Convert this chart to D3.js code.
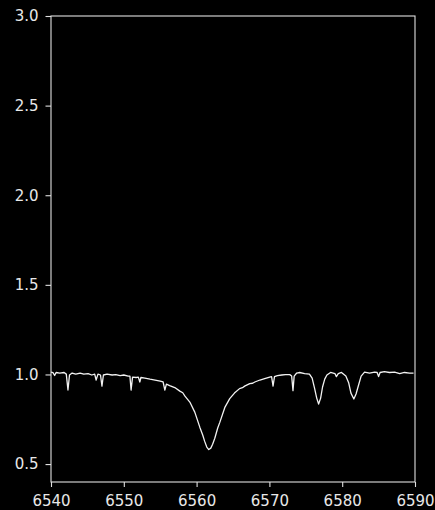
<!DOCTYPE html>
<html>
<head>
<meta charset="utf-8">
<script src="https://cdn.jsdelivr.net/npm/d3@7"></script>
<style>
  html, body { margin: 0; padding: 0; background: #000; }
  svg { display: block; }
  .axis text { font-family: "DejaVu Sans", sans-serif; font-size: 15px; fill: #e8e8e8; }
  .axis line, .axis path { stroke: #e0e0e0; stroke-width: 1.1; }
</style>
</head>
<body>
<script>
// Spectrum around H-alpha: wavelength (Å) and normalised flux
const wavelength = [
  6540.0, 6540.27, 6540.5, 6540.7, 6541.2, 6541.8, 6542.1, 6542.33, 6542.54, 6542.9,
  6543.4, 6544.0, 6544.5, 6545.1, 6545.6, 6546.0, 6546.2, 6546.45, 6546.8, 6547.0,
  6547.2, 6547.7, 6548.4, 6548.9, 6549.5, 6550.0, 6550.6, 6550.84, 6551.0, 6551.2,
  6551.7, 6552.0, 6552.2, 6552.35, 6552.9, 6553.6, 6554.3, 6555.0, 6555.4, 6555.64,
  6555.85, 6556.3, 6557.0, 6557.7, 6558.1, 6558.4, 6559.07, 6559.75, 6560.44, 6560.85, 6561.1,
  6561.4, 6561.67, 6561.95, 6562.2, 6562.5, 6562.9, 6563.2, 6563.9, 6564.55, 6565.2,
  6565.9, 6566.3, 6566.6, 6567.3, 6567.7, 6568.0, 6568.7, 6569.35, 6570.04, 6570.3, 6570.5, 6570.7,
  6571.1, 6571.7, 6572.2, 6572.8, 6573.06, 6573.24, 6573.4, 6573.75, 6574.16, 6574.84,
  6575.5, 6575.87, 6576.2, 6576.5, 6576.76, 6577.04, 6577.3, 6577.6, 6577.9, 6578.4,
  6579.0, 6579.2, 6579.46, 6579.9, 6580.5, 6580.9, 6581.2, 6581.6, 6581.9, 6582.25,
  6582.6, 6583.07, 6583.76, 6584.44, 6584.8, 6585.0, 6585.2, 6585.8, 6586.5, 6587.2,
  6587.9, 6588.56, 6589.25, 6589.8
];
const flux = [
  1.013, 1.010, 0.994, 1.011, 1.008, 1.011, 1.002, 0.913, 0.997, 1.008,
  1.002, 1.008, 1.002, 1.005, 0.997, 1.002, 0.969, 1.002, 0.997, 0.935,
  0.997, 1.002, 0.997, 0.999, 0.994, 0.997, 0.991, 0.991, 0.913, 0.985,
  0.983, 0.985, 0.958, 0.983, 0.980, 0.974, 0.969, 0.963, 0.958, 0.913,
  0.946, 0.938, 0.927, 0.907, 0.898, 0.879, 0.846, 0.790, 0.706, 0.661, 0.628,
  0.595, 0.581, 0.589, 0.611, 0.644, 0.701, 0.734, 0.818, 0.865, 0.896,
  0.921, 0.926, 0.935, 0.949, 0.951, 0.958, 0.969, 0.977, 0.985, 0.988, 0.935, 0.988,
  0.994, 0.997, 0.999, 0.999, 0.991, 0.910, 0.991, 1.008, 1.011, 1.005,
  1.002, 0.980, 0.924, 0.868, 0.835, 0.868, 0.930, 0.974, 0.997, 1.011,
  1.005, 0.988, 1.005, 1.011, 0.991, 0.952, 0.896, 0.863, 0.891, 0.941,
  0.991, 1.013, 1.008, 1.013, 1.011, 0.988, 1.011, 1.016, 1.011, 1.013,
  1.005, 1.011, 1.008, 1.008
];
const xTicks = [6540, 6550, 6560, 6570, 6580, 6590];
const yTicks = [0.5, 1.0, 1.5, 2.0, 2.5, 3.0];

const W = 435, H = 510;
const plot = { left: 51, right: 415, top: 16, bottom: 482 };

const svg = d3.select("body").append("svg")
  .attr("width", W).attr("height", H)
  .style("background", "#000");

const x = d3.scaleLinear().domain([6540, 6590]).range([plot.left, plot.right]);
const y = d3.scaleLinear().domain([0.4, 3.0]).range([plot.bottom, plot.top]);

const points = wavelength.map((w, i) => [w, flux[i]]);

svg.append("path")
  .datum(points)
  .attr("fill", "none")
  .attr("stroke", "#f2f2f2")
  .attr("stroke-width", 1.3)
  .attr("stroke-linejoin", "round")
  .attr("d", d3.line().x(d => x(d[0])).y(d => y(d[1])));

// frame
svg.append("rect")
  .attr("x", plot.left).attr("y", plot.top)
  .attr("width", plot.right - plot.left).attr("height", plot.bottom - plot.top)
  .attr("fill", "none").attr("stroke", "#e0e0e0").attr("stroke-width", 1.1);

svg.append("g").attr("class", "axis")
  .attr("transform", `translate(0,${plot.bottom})`)
  .call(d3.axisBottom(x).tickValues(xTicks).tickFormat(d3.format("d"))
    .tickSize(5).tickPadding(8))
  .call(g => g.select(".domain").remove());

svg.append("g").attr("class", "axis")
  .attr("transform", `translate(${plot.left},0)`)
  .call(d3.axisLeft(y).tickValues(yTicks).tickFormat(d3.format(".1f"))
    .tickSize(5.5).tickPadding(7))
  .call(g => g.select(".domain").remove());
</script>
</body>
</html>
